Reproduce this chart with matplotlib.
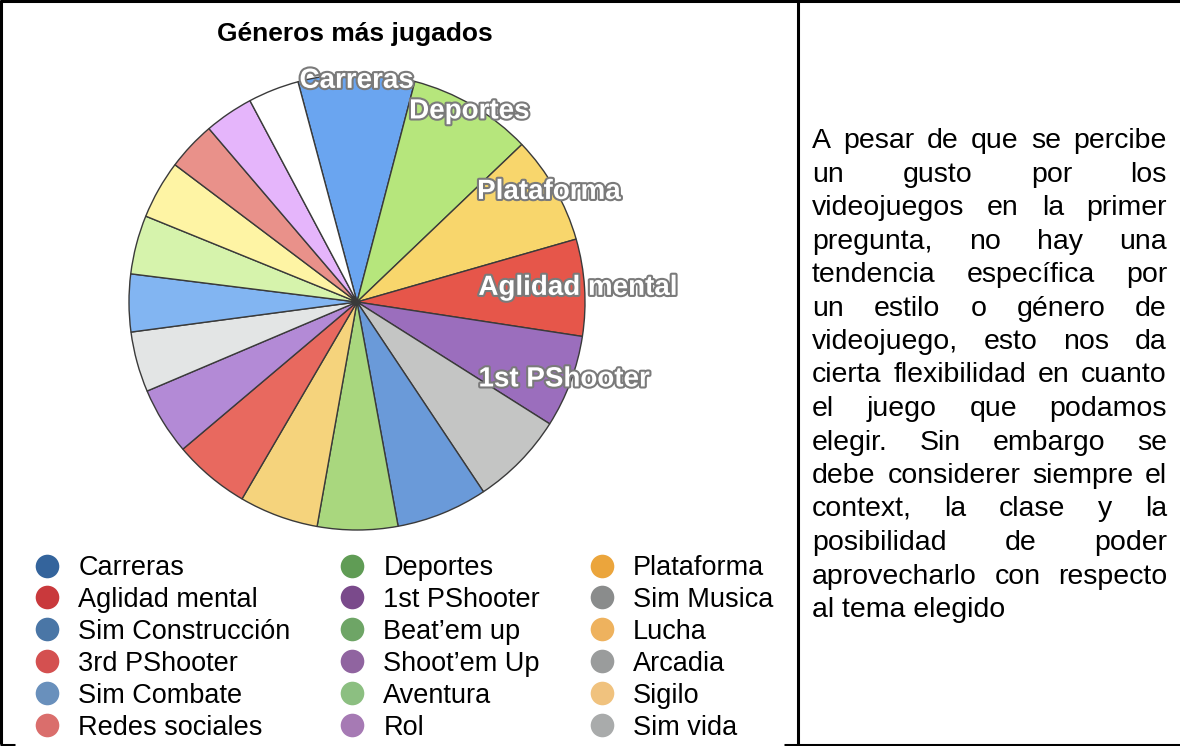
import matplotlib
matplotlib.use('Agg')
import matplotlib.pyplot as plt
import matplotlib.patheffects as pe
from matplotlib.lines import Line2D

plt.rcParams['font.family'] = ['Liberation Sans', 'DejaVu Sans']

# data (share of votes)
generos = ['Carreras', 'Deportes', 'Plataforma', 'Aglidad mental', '1st PShooter',
           'Sim Musica', 'Sim Construcción', 'Beat\u2019em up', 'Lucha', '3rd PShooter',
           'Shoot\u2019em Up', 'Arcadia', 'Sim Combate', 'Aventura', 'Sigilo',
           'Redes sociales', 'Rol', 'Sim vida']
valores = [8.25, 8.78, 7.69, 6.86, 6.56, 6.67, 6.47, 5.69, 5.61, 5.42,
           4.78, 4.28, 4.08, 4.17, 4.14, 3.47, 3.47, 3.61]
etiquetados = ['Carreras', 'Deportes', 'Plataforma', 'Aglidad mental', '1st PShooter']

pie_colors = ['#6aa5f0', '#b6e67c', '#f8d66c', '#e6564a', '#9b6ebd', '#c4c5c4',
              '#6a9ad9', '#a9d77e', '#f5d37c', '#e8695f', '#b38ad6', '#e3e5e5',
              '#82b5f2', '#d6f3ac', '#fef4a4', '#e9918a', '#e5b5fb', '#ffffff']
legend_colors = ['#34649c', '#609c55', '#eba53c', '#c9393c', '#7a4a8b', '#8a8c8c',
                 '#4a76a6', '#6ea566', '#eeb25e', '#d45050', '#9064a0', '#9a9c9c',
                 '#6990bc', '#8cbf81', '#f0c27e', '#da6e6c', '#a67ab4', '#a9abab']

titulo = 'Géneros más jugados'
lineas = ['A pesar de que se percibe',
          'un gusto por los',
          'videojuegos en la primer',
          'pregunta, no hay una',
          'tendencia específica por',
          'un estilo o género de',
          'videojuego, esto nos da',
          'cierta flexibilidad en cuanto',
          'el juego que podamos',
          'elegir. Sin embargo se',
          'debe considerer siempre el',
          'context, la clase y la',
          'posibilidad de poder',
          'aprovecharlo con respecto',
          'al tema elegido']

W, H = 1180, 746
fig = plt.figure(figsize=(W / 100, H / 100), dpi=100)

# table borders
border = fig.add_axes([0, 0, 1, 1])
border.set_xlim(0, W)
border.set_ylim(H, 0)
border.axis('off')
for xs, ys in [([0, W], [1, 1]), ([0.8, 0.8], [0, 744]), ([797.5, 797.5], [0, H]),
               ([0, 15], [744.5, 744.5]), ([784, W], [744.5, 744.5])]:
    border.plot(xs, ys, color='black', lw=2.2, solid_capstyle='butt')

# pie
cx, cy, r = 357, 302, 228
half = 1.1 * r
ax = fig.add_axes([(cx - half) / W, (H - cy - half) / H, 2 * half / W, 2 * half / H])
labels = [g if g in etiquetados else '' for g in generos]
wedges, texts = ax.pie(valores, labels=labels, colors=pie_colors, startangle=105,
                       counterclock=False, labeldistance=0.97,
                       wedgeprops=dict(edgecolor='#3a3a3a', linewidth=1.0),
                       textprops=dict(color='white', fontsize=20, fontweight='bold'))
for t in texts:
    t.set_ha('center')
    t.set_va('center')
    t.set_path_effects([pe.withStroke(linewidth=3, foreground='#7a7a7a')])
ax.set_xlim(-1.1, 1.1)
ax.set_ylim(-1.1, 1.1)
ax.axis('off')

fig.text(355 / W, 1 - 34 / H, titulo, ha='center', va='center',
         fontsize=19, fontweight='bold')

# legend, row by row in three columns
orden = [i + 3 * k for i in range(3) for k in range(6)]
handles = [Line2D([], [], linestyle='', marker='o', markersize=17,
                  markerfacecolor=legend_colors[i], markeredgewidth=0,
                  label=generos[i]) for i in orden]
fig.legend(handles=handles, ncol=3, loc='upper left', frameon=False,
           bbox_to_anchor=(33.5 / W, 1 - 555 / H), borderpad=0, borderaxespad=0,
           fontsize=19.5, handlelength=1.0, handletextpad=0.65,
           columnspacing=1.78, labelspacing=0.22)

# justified text in right cell
x0, x1 = 812, 1167
fs = 20.5
fig.canvas.draw()
renderer = fig.canvas.get_renderer()
for i, linea in enumerate(lineas):
    yb = 1 - (148 + 33.5 * i) / H
    palabras = linea.split()
    if i == len(lineas) - 1:
        fig.text(x0 / W, yb, linea, fontsize=fs, ha='left', va='baseline')
        continue
    objs = [fig.text(0, yb, p, fontsize=fs, ha='left', va='baseline') for p in palabras]
    anchos = [o.get_window_extent(renderer).width for o in objs]
    hueco = (x1 - x0 - sum(anchos)) / (len(palabras) - 1)
    x = x0
    for o, w in zip(objs, anchos):
        o.set_x(x / W)
        x += w + hueco

fig.savefig('out.png', dpi=100)
